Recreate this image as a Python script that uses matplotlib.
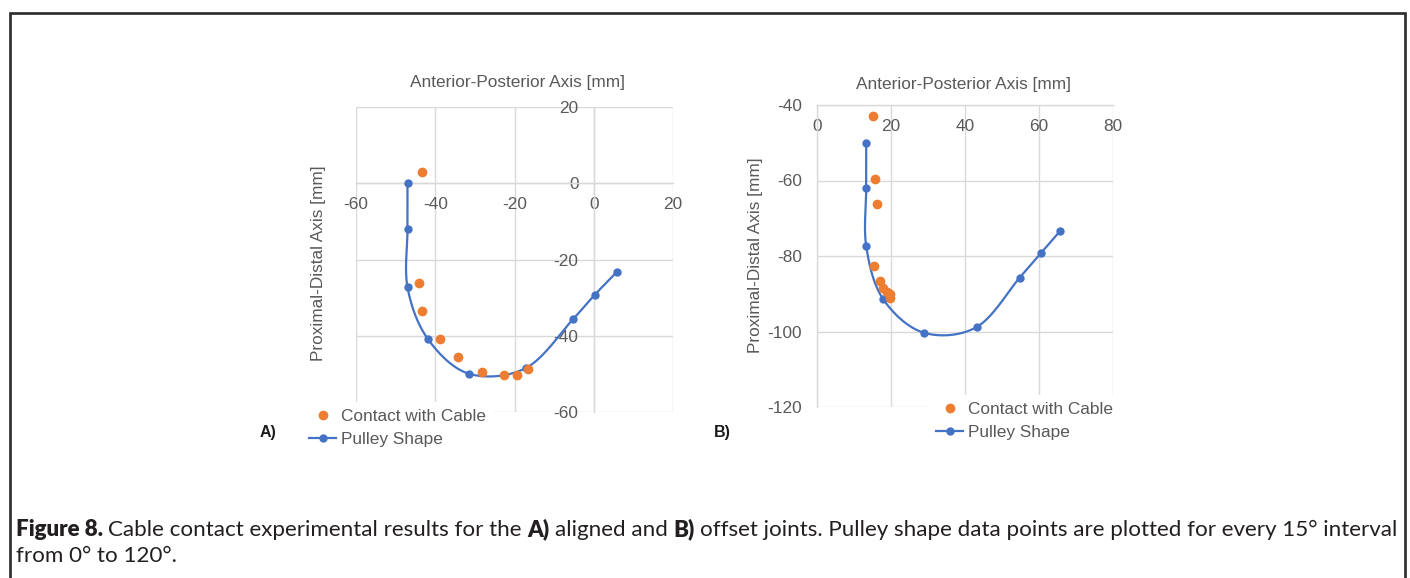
import matplotlib
matplotlib.use('Agg')
import matplotlib.pyplot as plt
from matplotlib.lines import Line2D
import numpy as np

W, H = 1410, 578

# Painel A - junta alinhada
a_contact_x = [-43.3, -44.0, -43.3, -38.7, -34.3, -28.3, -22.6, -19.3, -16.5]
a_contact_y = [2.9, -26.2, -33.4, -40.8, -45.6, -49.4, -50.4, -50.2, -48.7]
a_pulley_x = [-47.0, -47.0, -47.0, -41.9, -31.4, -17.0, -5.2, 0.3, 5.8]
a_pulley_y = [0.0, -12.1, -27.3, -40.8, -50.0, -48.4, -35.6, -29.2, -23.3]
a_xticks = [-60, -40, -20, 0, 20]
a_yticks = [-60, -40, -20, 0, 20]

# Painel B - junta deslocada
b_contact_x = [15.0, 15.8, 16.1, 15.3, 17.1, 17.8, 18.8, 19.6, 19.8]
b_contact_y = [-42.9, -59.7, -66.3, -82.6, -86.6, -88.4, -89.5, -90.0, -91.2]
b_pulley_x = [13.3, 13.3, 13.3, 17.8, 28.8, 43.2, 54.8, 60.5, 65.6]
b_pulley_y = [-50.0, -62.1, -77.4, -91.3, -100.3, -98.8, -85.7, -79.3, -73.5]
b_xticks = [0, 20, 40, 60, 80]
b_yticks = [-120, -100, -80, -60, -40]

legend_labels = ['Contact with Cable', 'Pulley Shape']

ORANGE = '#ED7D31'
BLUE = '#4472C4'
GRAY_TXT = '#595959'
GRID = '#D9D9D9'
FS = 12.4

plt.rcParams['font.family'] = ['Liberation Sans', 'DejaVu Sans']
plt.rcParams['axes.unicode_minus'] = False


def px(x, y):
    """pixel (origem no topo esquerdo) -> fração da figura"""
    return x / W, 1 - y / H


def smooth(xs, ys, n=30):
    # linha suavizada tipo Excel (Bezier / Catmull-Rom)
    pts = np.column_stack([xs, ys]).astype(float)
    pad = np.vstack([pts[0], pts, pts[-1]])
    out = [pts[:1]]
    t = np.linspace(0, 1, n)[1:, None]
    for i in range(1, len(pad) - 2):
        p0, p1, p2, p3 = pad[i - 1], pad[i], pad[i + 1], pad[i + 2]
        c1 = p1 + (p2 - p0) / 6
        c2 = p2 - (p3 - p1) / 6
        seg = ((1 - t) ** 3) * p1 + 3 * ((1 - t) ** 2) * t * c1 + 3 * (1 - t) * t ** 2 * c2 + t ** 3 * p2
        out.append(seg)
    res = np.vstack(out)
    return res[:, 0], res[:, 1]


fig = plt.figure(figsize=(W / 100, H / 100), dpi=100)


def draw_panel(box, xticks, yticks, x_cross, y_cross, cx, cy, px_, py_,
               leg_xy, xlabel_xy, ylabel_xy, tag, tag_xy):
    l, t, r, b = box
    ax = fig.add_axes([l / W, 1 - b / H, (r - l) / W, (b - t) / H])
    ax.set_xlim(xticks[0], xticks[-1])
    ax.set_ylim(yticks[0], yticks[-1])
    ax.set_xticks(xticks)
    ax.set_yticks(yticks)
    ax.grid(True, color=GRID, lw=1.0)
    ax.set_axisbelow(True)
    for s in ['top', 'right']:
        ax.spines[s].set_visible(False)
    ax.spines['bottom'].set_position(('data', y_cross))
    ax.spines['left'].set_position(('data', x_cross))
    for s in ['bottom', 'left']:
        ax.spines[s].set_color(GRID)
        ax.spines[s].set_linewidth(1.0)
    ax.tick_params(axis='x', length=0, pad=10, labelsize=FS, labelcolor=GRAY_TXT)
    ax.tick_params(axis='y', length=0, pad=11, labelsize=FS, labelcolor=GRAY_TXT)

    sx, sy = smooth(px_, py_)
    ax.plot(sx, sy, color=BLUE, lw=1.6, zorder=3, clip_on=False)
    ax.plot(px_, py_, ls='none', marker='o', ms=5, color=BLUE, zorder=3, clip_on=False)
    ax.plot(cx, cy, ls='none', marker='o', ms=6, color=ORANGE, zorder=4, clip_on=False)

    handles = [Line2D([], [], ls='none', marker='o', ms=6, color=ORANGE),
               Line2D([], [], color=BLUE, lw=1.6, marker='o', ms=5)]
    ax.legend(handles, legend_labels, loc='upper left',
              bbox_to_anchor=px(*leg_xy), bbox_transform=fig.transFigure,
              frameon=True, facecolor='white', edgecolor='none', framealpha=1,
              fancybox=False, fontsize=FS, handlelength=1.6, handletextpad=0.25,
              borderpad=0.4, borderaxespad=0, labelspacing=0.45, labelcolor=GRAY_TXT)

    fig.text(*px(*xlabel_xy), 'Anterior-Posterior Axis [mm]', ha='center', va='center',
             fontsize=FS, color=GRAY_TXT)
    fig.text(*px(*ylabel_xy), 'Proximal-Distal Axis [mm]', ha='center', va='center',
             rotation=90, fontsize=FS, color=GRAY_TXT)
    fig.text(*px(*tag_xy), tag, ha='center', va='center', fontsize=11.5,
             fontweight='bold', color='#1a1a1a')
    return ax


draw_panel((356, 107, 673, 412), a_xticks, a_yticks, 0, 0,
           a_contact_x, a_contact_y, a_pulley_x, a_pulley_y,
           (302, 402), (518, 83), (318, 263), 'A)', (268, 433))
draw_panel((817, 105, 1113, 407), b_xticks, b_yticks, 0, -40,
           b_contact_x, b_contact_y, b_pulley_x, b_pulley_y,
           (929, 395), (963, 85), (755, 255), 'B)', (722, 433))

# moldura da figura
frame_col = '#2B2B2B'
fig.add_artist(Line2D([9.5 / W, 9.5 / W, 1405 / W, 1405 / W],
                      [0, 1 - 13 / H, 1 - 13 / H, 0],
                      transform=fig.transFigure, color=frame_col, lw=1.9,
                      solid_joinstyle='miter'))

# legenda da figura (negrito + normal misturados)
cap_font = ['Lato', 'DejaVu Sans']
cap_col = '#231F20'
line1 = [('Figure 8.', 'heavy'),
         ('Cable contact experimental results for the', 'normal'),
         ('A)', 'heavy'),
         ('aligned and', 'normal'),
         ('B)', 'heavy'),
         ('offset joints. Pulley shape data points are plotted for every 15\u00b0 interval', 'normal')]
line2 = [('from 0\u00b0 to 120\u00b0.', 'normal')]

renderer = fig.canvas.get_renderer()


def width_of(s, size, weight):
    t = fig.text(0, 0, s, fontsize=size, fontweight=weight, family=cap_font)
    w = t.get_window_extent(renderer).width
    t.remove()
    return w


def space_of(size, weight):
    return width_of('x x', size, weight) - width_of('xx', size, weight)


def line_width(pieces, size):
    tot = sum(width_of(s, size, w) for s, w in pieces)
    tot += sum(space_of(size, w) for s, w in pieces[:-1])
    return tot


x0, x1 = 16, 1392
size = 12 * (x1 - x0) / line_width(line1, 12)


def put_line(pieces, y):
    x = x0
    for i, (s, w) in enumerate(pieces):
        t = fig.text(*px(x, y), s, fontsize=size, fontweight=w, family=cap_font,
                     color=cap_col, ha='left', va='baseline')
        x += t.get_window_extent(renderer).width
        if i < len(pieces) - 1:
            x += space_of(size, w)


put_line(line1, 536)
put_line(line2, 562)

fig.savefig('out.png', dpi=100)
